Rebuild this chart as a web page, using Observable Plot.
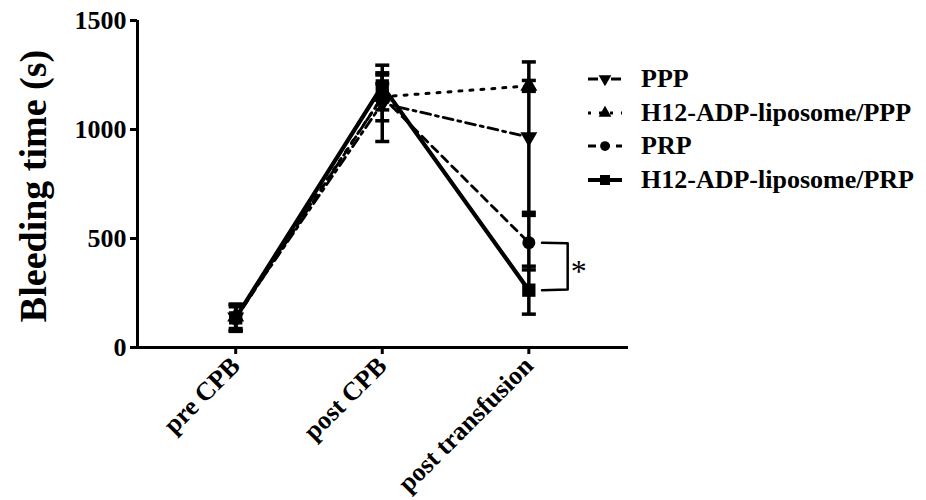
<!DOCTYPE html>
<html><head><meta charset="utf-8">
<script src="https://cdn.jsdelivr.net/npm/d3@7"></script>
<script src="https://cdn.jsdelivr.net/npm/@observablehq/plot@0.6"></script>
<style>
body{margin:0;background:#fff;}
#wrap{position:relative;width:926px;height:500px;}
#legend{position:absolute;left:586px;top:62px;font-family:"Liberation Serif",serif;font-weight:bold;font-size:26px;color:#000;}
.row{display:flex;align-items:center;height:33.7px;white-space:nowrap;}
.row svg{margin-right:17px;flex:none;}
</style></head><body><div id="wrap"><div id="legend"></div></div>
<script>
// ---- data ----
const timepoints = ["pre CPB", "post CPB", "post transfusion"];
const seriesNames = ["PPP", "H12-ADP-liposome/PPP", "PRP", "H12-ADP-liposome/PRP"];
const pppMean = [138, 1120, 965];
const pppSD = [60, 175, 345];
const h12pppMean = [142, 1150, 1200];
const h12pppSD = [55, 60, 25];
const prpMean = [132, 1150, 481];
const prpSD = [55, 110, 125];
const h12prpMean = [136, 1200, 263];
const h12prpSD = [62, 50, 110];
const yTicks = [0, 500, 1000, 1500];
const yLabel = "Bleeding time (s)";
const sigLabel = "*";

const means = [pppMean, h12pppMean, prpMean, h12prpMean];
const sds = [pppSD, h12pppSD, prpSD, h12prpSD];
const rows = [];
seriesNames.forEach((s, k) => timepoints.forEach((t, i) =>
  rows.push({series: s, xi: i, mean: means[k][i], sd: sds[k][i]})));

// ---- styles ----
const styles = {
  "PPP": {dash: "10,5,3,5", width: 2.8, symbol: "triangle", r: 6.3, rotate: 180},
  "H12-ADP-liposome/PPP": {dash: "3,8", width: 3, symbol: "triangle", r: 6.3, rotate: 0},
  "PRP": {dash: "8,6", width: 2.8, symbol: "circle", r: 6.5, rotate: 0},
  "H12-ADP-liposome/PRP": {dash: null, width: 4.2, symbol: "square", r: 7.5, rotate: 0}
};
const capSymbol = {draw(ctx, size) { const r = Math.sqrt(size / Math.PI); ctx.moveTo(-r, 0); ctx.lineTo(r, 0); }};
const xDomain = [-0.67, 2.68];
const font = "Liberation Serif, serif";

const lineMarks = seriesNames.map(s => Plot.line(rows.filter(d => d.series === s), {
  x: "xi", y: "mean", stroke: "black", strokeWidth: styles[s].width,
  strokeDasharray: styles[s].dash, strokeLinejoin: "round"
}));
const errMarks = [
  Plot.ruleX(rows, {x: "xi", y1: d => d.mean - d.sd, y2: d => d.mean + d.sd, stroke: "black", strokeWidth: 3.5}),
  Plot.dot(rows, {x: "xi", y: d => d.mean + d.sd, symbol: capSymbol, r: 7, stroke: "black", strokeWidth: 3.5, fill: "none"}),
  Plot.dot(rows, {x: "xi", y: d => d.mean - d.sd, symbol: capSymbol, r: 7, stroke: "black", strokeWidth: 3.5, fill: "none"})
];
const dotMarks = seriesNames.map(s => Plot.dot(rows.filter(d => d.series === s), {
  x: "xi", y: "mean", symbol: styles[s].symbol, r: styles[s].r, rotate: styles[s].rotate,
  fill: "black", stroke: "none"
}));

// significance bracket between PRP and H12-ADP-liposome/PRP at post transfusion
const last = timepoints.length - 1;
const bx0 = last + 0.09, bx1 = last + 0.265;
const bracket = [
  {x: bx0, y: prpMean[last]}, {x: bx1, y: prpMean[last] - 3},
  {x: bx1, y: h12prpMean[last] + 3}, {x: bx0, y: h12prpMean[last]}
];

const chart = Plot.plot({
  width: 926, height: 500,
  marginLeft: 137, marginRight: 298, marginTop: 20, marginBottom: 153,
  style: {fontFamily: font, fontWeight: "bold", color: "black", background: "white", overflow: "visible"},
  x: {domain: xDomain},
  y: {domain: [0, 1500]},
  marks: [
    ...lineMarks,
    ...errMarks,
    ...dotMarks,
    Plot.line(bracket, {x: "x", y: "y", stroke: "black", strokeWidth: 2.5, curve: "linear"}),
    Plot.text([sigLabel], {x: last + 0.34, y: (prpMean[last] + h12prpMean[last]) / 2, text: d => d,
      fontSize: 32, fontWeight: "normal", dy: 5, fill: "black"}),
    Plot.ruleX([xDomain[0]], {y1: 0, y2: 1500, stroke: "black", strokeWidth: 3}),
    Plot.ruleY([0], {stroke: "black", strokeWidth: 3}),
    Plot.axisY({ticks: yTicks, tickSize: 7, tickPadding: 4, strokeWidth: 3, fontSize: 26, label: null, tickFormat: d => String(d)}),
    Plot.axisX({ticks: [0, 1, 2], tickFormat: i => timepoints[i], tickSize: 7, tickPadding: 7, strokeWidth: 3,
      tickRotate: -45, fontSize: 26, label: null}),
    Plot.text([yLabel], {frameAnchor: "left", textAnchor: "middle", lineAnchor: "middle", rotate: -90, dx: -104, dy: 2, text: d => d, fontSize: 38, fontWeight: "bold", fill: "black"})
  ]
});
document.getElementById("wrap").prepend(chart);

// legend
const legend = document.getElementById("legend");
seriesNames.forEach(s => {
  const st = styles[s];
  const row = document.createElement("div");
  row.className = "row";
  const svg = d3.create("svg").attr("width", 38).attr("height", 20);
  svg.append("line").attr("x1", 2).attr("x2", 36).attr("y1", 10).attr("y2", 10)
    .attr("stroke", "black").attr("stroke-width", st.width)
    .attr("stroke-dasharray", st.dash);
  const sym = {triangle: d3.symbolTriangle, circle: d3.symbolCircle, square: d3.symbolSquare}[st.symbol];
  const size = Math.PI * (st.r * 0.75) ** 2;
  svg.append("path").attr("d", d3.symbol(sym, size)())
    .attr("transform", `translate(19,10) rotate(${st.rotate})`).attr("fill", "black");
  row.appendChild(svg.node());
  const span = document.createElement("span");
  span.textContent = s;
  row.appendChild(span);
  legend.appendChild(row);
});
</script></body></html>
